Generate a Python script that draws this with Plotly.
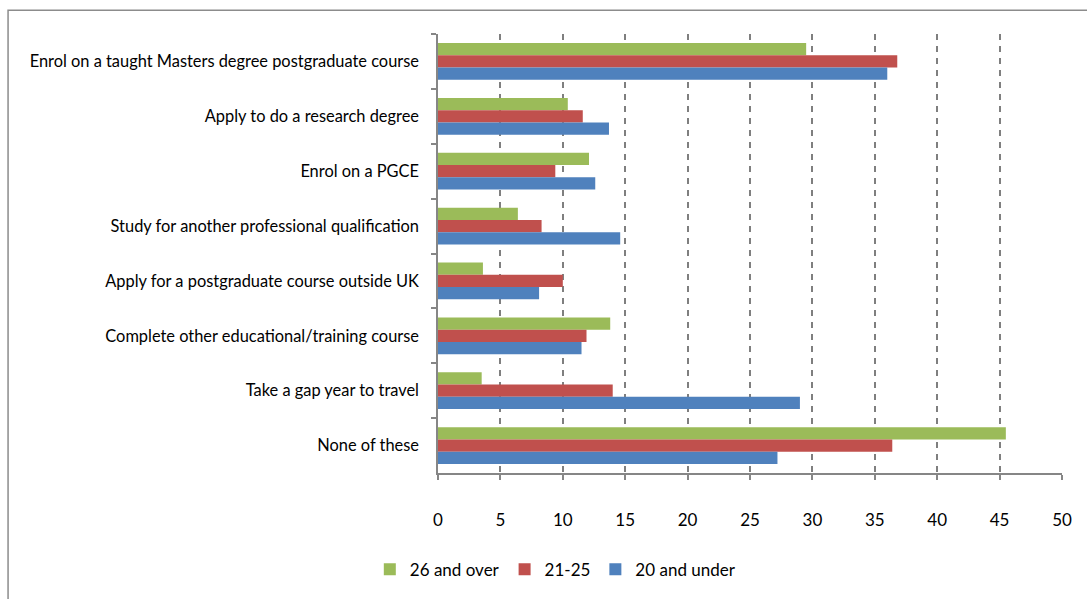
import plotly.graph_objects as go

# Categories, top to bottom as drawn
categories = [
    'Enrol on a taught Masters degree postgraduate course',
    'Apply to do a research degree',
    'Enrol on a PGCE',
    'Study for another professional qualification',
    'Apply for a postgraduate course outside UK',
    'Complete other educational/training course',
    'Take a gap year to travel',
    'None of these',
]

# Series values
age_26_over = [29.5, 10.4, 12.1, 6.4, 3.6, 13.8, 3.5, 45.5]
age_21_25 = [36.8, 11.6, 9.4, 8.3, 10.0, 11.9, 14.0, 36.4]
age_20_under = [36.0, 13.7, 12.6, 14.6, 8.1, 11.5, 29.0, 27.2]

series_names = ['26 and over', '21-25', '20 and under']
series_colors = ['#9BBB59', '#C0504D', '#4F81BD']
x_ticks = [0, 5, 10, 15, 20, 25, 30, 35, 40, 45, 50]

font_family = 'Lato, sans-serif'

fig = go.Figure()
for name, vals, color in zip(series_names, [age_26_over, age_21_25, age_20_under], series_colors):
    fig.add_trace(go.Bar(y=categories, x=vals, name=name, orientation='h',
                         marker=dict(color=color, line=dict(width=0))))

fig.update_layout(
    width=1087, height=599,
    margin=dict(l=438, r=25, t=34, b=123),
    plot_bgcolor='white', paper_bgcolor='white',
    barmode='group', bargap=0.33, bargroupgap=0,
    font=dict(family=font_family, size=15, color='black'),
    showlegend=True,
    legend=dict(orientation='h', x=0.188, xanchor='center', y=-0.22, yanchor='middle',
                font=dict(size=17), itemwidth=30, traceorder='normal'),
    shapes=[dict(type='rect', xref='paper', yref='paper',
                 x0=-0.689, x1=1.2, y0=-0.4, y1=1.0543,
                 line=dict(color='#8C8C8C', width=1.5), fillcolor='rgba(0,0,0,0)', layer='below')],
)

fig.update_xaxes(range=[0, 50], tickvals=x_ticks, showgrid=True, gridcolor='#7F7F7F',
                 griddash='6px,6px', gridwidth=1.6, zeroline=False,
                 showline=True, linecolor='#868686', linewidth=1.5,
                 ticks='outside', ticklen=5, tickcolor='#868686', tickwidth=1.5,
                 ticklabelstandoff=26, tickfont=dict(size=17))
fig.update_yaxes(autorange='reversed', showgrid=False, zeroline=False,
                 showline=True, linecolor='#868686', linewidth=1.5,
                 ticks='outside', ticklen=5, tickcolor='#868686', tickwidth=1.5,
                 tickson='boundaries', ticklabelstandoff=14, tickfont=dict(size=16.4))

# drop the page margin so the figure sits at the window's top-left corner
fig.write_html('out.html', config={'displayModeBar': False},
               post_script="document.body.style.margin='0';")
